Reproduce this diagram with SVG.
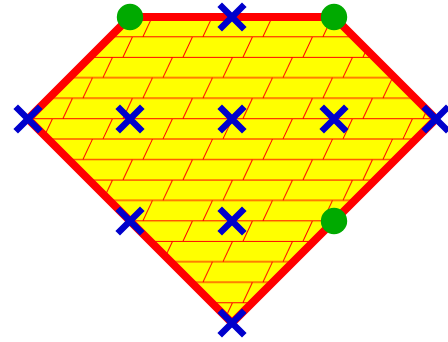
<svg xmlns="http://www.w3.org/2000/svg" width="448" height="342" viewBox="0 0 448 342">
  <style>
    .brick { stroke: #ff0000; stroke-width: 1; fill: none; }
    .outline { fill: url(#bricks); stroke: #ff0000; stroke-width: 8; stroke-linejoin: round; }
    .dot { fill: #00aa00; }
    .cross { stroke: #0000cc; stroke-width: 6.5; fill: none; }
  </style>
  <defs>
    <pattern id="bricks" patternUnits="userSpaceOnUse" x="0" y="6.4" width="60" height="61.35">
      <rect x="0" y="0" width="60" height="61.35" fill="#ffff00"/>
      <path class="brick" d="M0 10H60M0 30.45H60M0 50.9H60M32.5 10L22.9 30.45M12.5 30.45L2.9 50.9M52.5 50.9L47.6 61.35M47.6 0L42.9 10"/>
    </pattern>
    <path id="x" class="cross" d="M-12.3 -12.3L12.3 12.3M-12.3 12.3L12.3 -12.3"/>
  </defs>
  <g id="shape">
    <polygon class="outline" points="130,17 334,17 436,119 232,323 28,119"/>
  </g>
  <g id="connectors"/>
  <g id="dots">
    <g id="dot1"><circle class="dot" cx="130" cy="17" r="13.2"/></g>
    <g id="dot2"><circle class="dot" cx="334" cy="17" r="13.2"/></g>
    <g id="dot3"><circle class="dot" cx="334" cy="221" r="13.2"/></g>
  </g>
  <g id="crosses">
    <g id="x1"><use href="#x" x="232" y="17"/></g>
    <g id="x2"><use href="#x" x="28" y="119"/></g>
    <g id="x3"><use href="#x" x="130" y="119"/></g>
    <g id="x4"><use href="#x" x="232" y="119"/></g>
    <g id="x5"><use href="#x" x="334" y="119"/></g>
    <g id="x6"><use href="#x" x="436" y="119"/></g>
    <g id="x7"><use href="#x" x="130" y="221"/></g>
    <g id="x8"><use href="#x" x="232" y="221"/></g>
    <g id="x9"><use href="#x" x="232" y="323"/></g>
  </g>
</svg>
